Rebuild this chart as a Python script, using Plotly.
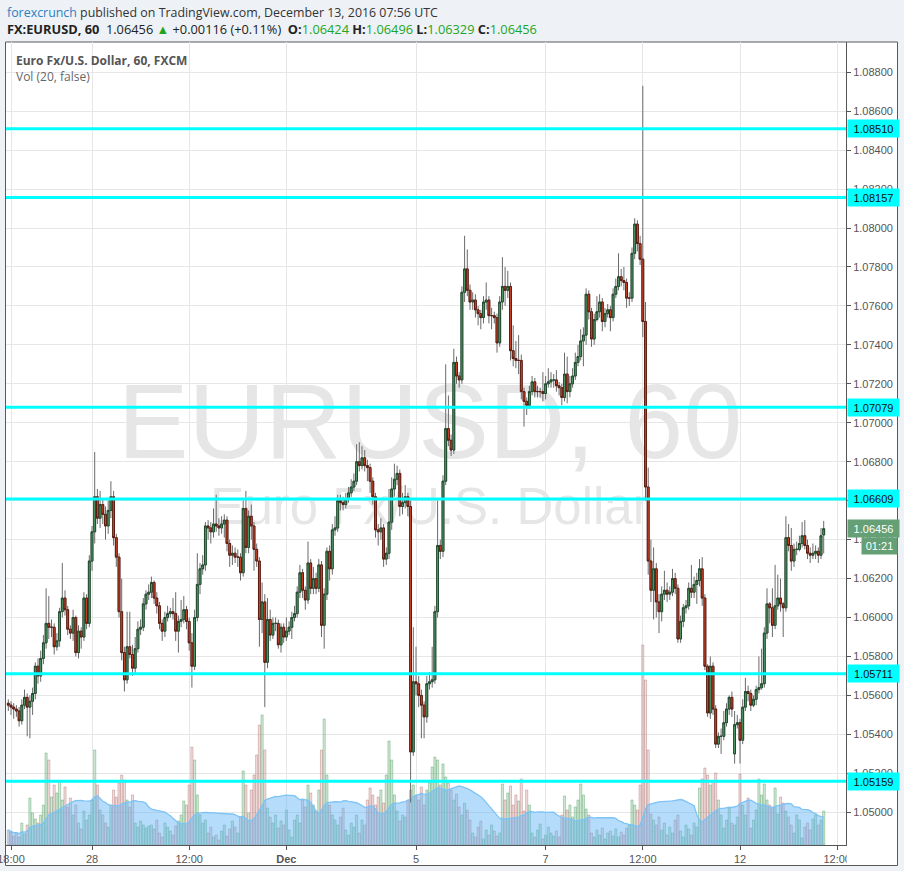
import pandas as pd
import plotly.graph_objects as go

# ---------------- data (EURUSD, 60 min bars, FXCM) ----------------
opens = [
    1.0556, 1.0555, 1.0554, 1.0553, 1.0552, 1.0547, 1.0555, 1.0559, 1.0554, 1.0557,
    1.0561, 1.0575, 1.0570, 1.0579, 1.0587, 1.0597, 1.0595, 1.0595, 1.0585, 1.0588,
    1.0603, 1.0610, 1.0604, 1.0594, 1.0592, 1.0600, 1.0582, 1.0593, 1.0590, 1.0610,
    1.0597, 1.0629, 1.0644, 1.0662, 1.0651, 1.0658, 1.0653, 1.0647, 1.0655, 1.0662,
    1.0641, 1.0631, 1.0603, 1.0582, 1.0568, 1.0585, 1.0581, 1.0574, 1.0584, 1.0594,
    1.0595, 1.0607, 1.0612, 1.0613, 1.0618, 1.0610, 1.0606, 1.0597, 1.0593, 1.0600,
    1.0602, 1.0603, 1.0602, 1.0593, 1.0598, 1.0599, 1.0604, 1.0598, 1.0587, 1.0575,
    1.0600, 1.0617, 1.0625, 1.0627, 1.0647, 1.0646, 1.0644, 1.0648, 1.0647, 1.0646,
    1.0648, 1.0650, 1.0638, 1.0632, 1.0633, 1.0631, 1.0631, 1.0623, 1.0656, 1.0636,
    1.0652, 1.0647, 1.0635, 1.0629, 1.0599, 1.0608, 1.0577, 1.0599, 1.0591, 1.0597,
    1.0597, 1.0586, 1.0595, 1.0590, 1.0593, 1.0595, 1.0600, 1.0602, 1.0613, 1.0623,
    1.0614, 1.0609, 1.0628, 1.0615, 1.0620, 1.0615, 1.0627, 1.0596, 1.0612, 1.0634,
    1.0625, 1.0645, 1.0646, 1.0660, 1.0659, 1.0658, 1.0661, 1.0664, 1.0667, 1.0670,
    1.0680, 1.0678, 1.0682, 1.0678, 1.0677, 1.0670, 1.0662, 1.0645, 1.0644, 1.0646,
    1.0630, 1.0633, 1.0649, 1.0666, 1.0671, 1.0674, 1.0657, 1.0659, 1.0662, 1.0657,
    1.0531, 1.0567, 1.0566, 1.0560, 1.0555, 1.0549, 1.0566, 1.0567, 1.0568, 1.0603,
    1.0637, 1.0634, 1.0670, 1.0697, 1.0691, 1.0686, 1.0731, 1.0724, 1.0722, 1.0767,
    1.0779, 1.0768, 1.0762, 1.0763, 1.0758, 1.0756, 1.0754, 1.0762, 1.0763, 1.0755,
    1.0755, 1.0754, 1.0741, 1.0762, 1.0770, 1.0768, 1.0770, 1.0737, 1.0733, 1.0732,
    1.0732, 1.0716, 1.0711, 1.0709, 1.0716, 1.0721, 1.0716, 1.0716, 1.0716, 1.0715,
    1.0720, 1.0721, 1.0722, 1.0722, 1.0719, 1.0718, 1.0713, 1.0725, 1.0716, 1.0720,
    1.0724, 1.0731, 1.0734, 1.0742, 1.0745, 1.0766, 1.0757, 1.0743, 1.0753, 1.0757,
    1.0762, 1.0752, 1.0756, 1.0758, 1.0754, 1.0766, 1.0770, 1.0775, 1.0773, 1.0772,
    1.0764, 1.0764, 1.0787, 1.0802, 1.0792, 1.0784, 1.0752, 1.0667, 1.0629, 1.0614,
    1.0625, 1.0608, 1.0603, 1.0612, 1.0614, 1.0612, 1.0613, 1.0620, 1.0615, 1.0589,
    1.0598, 1.0605, 1.0606, 1.0615, 1.0613, 1.0617, 1.0619, 1.0625, 1.0610, 1.0575,
    1.0551, 1.0575, 1.0553, 1.0535, 1.0539, 1.0539, 1.0546, 1.0553, 1.0559, 1.0530,
    1.0545, 1.0546, 1.0537, 1.0554, 1.0562, 1.0561, 1.0555, 1.0558, 1.0563, 1.0564,
    1.0566, 1.0592, 1.0607, 1.0605, 1.0596, 1.0606, 1.0610, 1.0607, 1.0605, 1.0641,
    1.0637, 1.0629, 1.0635, 1.0635, 1.0638, 1.0642, 1.0637, 1.0633, 1.0632, 1.0633,
    1.0634, 1.0632, 1.06424,
]
highs = [
    1.0558, 1.0557, 1.0556, 1.0555, 1.0554, 1.0558, 1.0563, 1.0561, 1.0560, 1.0564,
    1.0577, 1.0579, 1.0583, 1.0591, 1.0615, 1.0611, 1.0599, 1.0597, 1.0592, 1.0605,
    1.0628, 1.0614, 1.0606, 1.0596, 1.0604, 1.0601, 1.0596, 1.0595, 1.0613, 1.0612,
    1.0632, 1.0647, 1.0685, 1.0666, 1.0665, 1.0661, 1.0657, 1.0660, 1.0670, 1.0665,
    1.0643, 1.0633, 1.0620, 1.0585, 1.0603, 1.0603, 1.0586, 1.0590, 1.0598, 1.0599,
    1.0610, 1.0614, 1.0617, 1.0621, 1.0619, 1.0613, 1.0608, 1.0599, 1.0603, 1.0606,
    1.0605, 1.0610, 1.0613, 1.0601, 1.0609, 1.0611, 1.0606, 1.0600, 1.0592, 1.0604,
    1.0633, 1.0628, 1.0632, 1.0649, 1.0650, 1.0649, 1.0656, 1.0663, 1.0651, 1.0652,
    1.0653, 1.0652, 1.0640, 1.0637, 1.0636, 1.0635, 1.0633, 1.0660, 1.0665, 1.0655,
    1.0658, 1.0649, 1.0638, 1.0631, 1.0618, 1.0612, 1.0610, 1.0604, 1.0600, 1.0600,
    1.0599, 1.0597, 1.0597, 1.0600, 1.0598, 1.0603, 1.0606, 1.0616, 1.0627, 1.0625,
    1.0616, 1.0639, 1.0630, 1.0626, 1.0623, 1.0630, 1.0629, 1.0615, 1.0636, 1.0637,
    1.0648, 1.0652, 1.0663, 1.0663, 1.0662, 1.0664, 1.0667, 1.0671, 1.0674, 1.0689,
    1.0690, 1.0688, 1.0686, 1.0681, 1.0679, 1.0672, 1.0664, 1.0648, 1.0651, 1.0648,
    1.0636, 1.0666, 1.0672, 1.0679, 1.0678, 1.0676, 1.0664, 1.0668, 1.0664, 1.0660,
    1.0595, 1.0585, 1.0570, 1.0563, 1.0557, 1.0570, 1.0572, 1.0585, 1.0606, 1.0660,
    1.0640, 1.0673, 1.0730, 1.0714, 1.0694, 1.0738, 1.0734, 1.0726, 1.0770, 1.0796,
    1.0789, 1.0771, 1.0767, 1.0766, 1.0760, 1.0758, 1.0765, 1.0772, 1.0765, 1.0759,
    1.0757, 1.0756, 1.0765, 1.0785, 1.0780, 1.0778, 1.0772, 1.0750, 1.0742, 1.0745,
    1.0735, 1.0718, 1.0713, 1.0719, 1.0724, 1.0723, 1.0719, 1.0718, 1.0726, 1.0724,
    1.0728, 1.0726, 1.0725, 1.0727, 1.0721, 1.0720, 1.0736, 1.0734, 1.0724, 1.0728,
    1.0736, 1.0740, 1.0748, 1.0749, 1.0769, 1.0768, 1.0759, 1.0756, 1.0765, 1.0766,
    1.0764, 1.0759, 1.0761, 1.0760, 1.0769, 1.0774, 1.0787, 1.0779, 1.0780, 1.0774,
    1.0767, 1.0790, 1.0805, 1.0804, 1.0796, 1.0873, 1.0762, 1.0677, 1.0640, 1.0636,
    1.0628, 1.0612, 1.0616, 1.0624, 1.0618, 1.0616, 1.0625, 1.0623, 1.0617, 1.0601,
    1.0607, 1.0609, 1.0618, 1.0627, 1.0621, 1.0623, 1.0630, 1.0631, 1.0612, 1.0576,
    1.0580, 1.0577, 1.0555, 1.0541, 1.0543, 1.0552, 1.0556, 1.0560, 1.0562, 1.0552,
    1.0550, 1.0548, 1.0558, 1.0569, 1.0565, 1.0563, 1.0560, 1.0565, 1.0580, 1.0584,
    1.0595, 1.0615, 1.0608, 1.0615, 1.0627, 1.0622, 1.0620, 1.0608, 1.0652, 1.0648,
    1.0646, 1.0638, 1.0639, 1.0642, 1.0649, 1.0650, 1.0640, 1.0636, 1.0638, 1.0637,
    1.0636, 1.0646, 1.06496,
]
lows = [
    1.0552, 1.0550, 1.0548, 1.0549, 1.0544, 1.0545, 1.0553, 1.0539, 1.0538, 1.0550,
    1.0558, 1.0566, 1.0567, 1.0576, 1.0584, 1.0589, 1.0590, 1.0581, 1.0583, 1.0585,
    1.0600, 1.0601, 1.0591, 1.0589, 1.0588, 1.0580, 1.0579, 1.0584, 1.0588, 1.0594,
    1.0595, 1.0624, 1.0638, 1.0648, 1.0646, 1.0648, 1.0640, 1.0643, 1.0651, 1.0637,
    1.0626, 1.0600, 1.0578, 1.0562, 1.0566, 1.0579, 1.0570, 1.0571, 1.0582, 1.0591,
    1.0593, 1.0604, 1.0609, 1.0610, 1.0607, 1.0602, 1.0594, 1.0588, 1.0590, 1.0598,
    1.0600, 1.0599, 1.0588, 1.0582, 1.0595, 1.0597, 1.0594, 1.0583, 1.0564, 1.0573,
    1.0598, 1.0612, 1.0622, 1.0624, 1.0640, 1.0638, 1.0641, 1.0644, 1.0642, 1.0643,
    1.0641, 1.0634, 1.0626, 1.0627, 1.0628, 1.0626, 1.0619, 1.0621, 1.0633, 1.0633,
    1.0640, 1.0624, 1.0626, 1.0585, 1.0592, 1.0554, 1.0574, 1.0588, 1.0589, 1.0593,
    1.0584, 1.0582, 1.0587, 1.0588, 1.0591, 1.0589, 1.0598, 1.0600, 1.0610, 1.0610,
    1.0604, 1.0607, 1.0612, 1.0612, 1.0612, 1.0613, 1.0590, 1.0584, 1.0609, 1.0619,
    1.0622, 1.0642, 1.0644, 1.0655, 1.0655, 1.0656, 1.0659, 1.0662, 1.0665, 1.0668,
    1.0675, 1.0676, 1.0675, 1.0670, 1.0664, 1.0658, 1.0641, 1.0637, 1.0640, 1.0626,
    1.0627, 1.0630, 1.0645, 1.0662, 1.0668, 1.0652, 1.0653, 1.0656, 1.0652, 1.0505,
    1.0529, 1.0560, 1.0554, 1.0538, 1.0538, 1.0546, 1.0563, 1.0564, 1.0566, 1.0600,
    1.0630, 1.0631, 1.0668, 1.0688, 1.0683, 1.0684, 1.0720, 1.0718, 1.0720, 1.0762,
    1.0765, 1.0758, 1.0758, 1.0754, 1.0750, 1.0748, 1.0751, 1.0758, 1.0751, 1.0748,
    1.0751, 1.0736, 1.0739, 1.0758, 1.0760, 1.0764, 1.0732, 1.0729, 1.0728, 1.0725,
    1.0712, 1.0698, 1.0704, 1.0707, 1.0714, 1.0713, 1.0713, 1.0713, 1.0711, 1.0712,
    1.0718, 1.0718, 1.0718, 1.0716, 1.0714, 1.0709, 1.0711, 1.0710, 1.0713, 1.0718,
    1.0722, 1.0729, 1.0732, 1.0729, 1.0740, 1.0753, 1.0739, 1.0740, 1.0752, 1.0754,
    1.0747, 1.0749, 1.0754, 1.0747, 1.0752, 1.0764, 1.0768, 1.0770, 1.0768, 1.0759,
    1.0760, 1.0762, 1.0784, 1.0788, 1.0781, 1.0744, 1.0660, 1.0622, 1.0608, 1.0599,
    1.0600, 1.0592, 1.0598, 1.0609, 1.0608, 1.0609, 1.0611, 1.0612, 1.0587, 1.0587,
    1.0595, 1.0602, 1.0604, 1.0610, 1.0610, 1.0607, 1.0616, 1.0606, 1.0573, 1.0549,
    1.0548, 1.0550, 1.0533, 1.0533, 1.0530, 1.0537, 1.0544, 1.0550, 1.0549, 1.0525,
    1.0543, 1.0525, 1.0535, 1.0552, 1.0557, 1.0552, 1.0554, 1.0555, 1.0561, 1.0563,
    1.0564, 1.0589, 1.0597, 1.0590, 1.0594, 1.0604, 1.0603, 1.0590, 1.0603, 1.0634,
    1.0624, 1.0626, 1.0632, 1.0634, 1.0636, 1.0635, 1.0630, 1.0628, 1.0630, 1.0630,
    1.0628, 1.0630, 1.06329,
]
closes = [
    1.0555, 1.0554, 1.0553, 1.0552, 1.0547, 1.0555, 1.0559, 1.0554, 1.0557, 1.0561,
    1.0575, 1.0570, 1.0579, 1.0587, 1.0597, 1.0595, 1.0595, 1.0585, 1.0588, 1.0603,
    1.0610, 1.0604, 1.0594, 1.0592, 1.0600, 1.0582, 1.0593, 1.0590, 1.0610, 1.0597,
    1.0629, 1.0644, 1.0662, 1.0651, 1.0658, 1.0653, 1.0647, 1.0655, 1.0662, 1.0641,
    1.0631, 1.0603, 1.0582, 1.0568, 1.0585, 1.0581, 1.0574, 1.0584, 1.0594, 1.0595,
    1.0607, 1.0612, 1.0613, 1.0618, 1.0610, 1.0606, 1.0597, 1.0593, 1.0600, 1.0602,
    1.0603, 1.0602, 1.0593, 1.0598, 1.0599, 1.0604, 1.0598, 1.0587, 1.0575, 1.0600,
    1.0617, 1.0625, 1.0627, 1.0647, 1.0646, 1.0644, 1.0648, 1.0647, 1.0646, 1.0648,
    1.0650, 1.0638, 1.0632, 1.0633, 1.0631, 1.0631, 1.0623, 1.0656, 1.0636, 1.0652,
    1.0647, 1.0635, 1.0629, 1.0599, 1.0608, 1.0577, 1.0599, 1.0591, 1.0597, 1.0597,
    1.0586, 1.0595, 1.0590, 1.0593, 1.0595, 1.0600, 1.0602, 1.0613, 1.0623, 1.0614,
    1.0609, 1.0628, 1.0615, 1.0620, 1.0615, 1.0627, 1.0596, 1.0612, 1.0634, 1.0625,
    1.0645, 1.0646, 1.0660, 1.0659, 1.0658, 1.0661, 1.0664, 1.0667, 1.0670, 1.0680,
    1.0678, 1.0682, 1.0678, 1.0677, 1.0670, 1.0662, 1.0645, 1.0644, 1.0646, 1.0630,
    1.0633, 1.0649, 1.0666, 1.0671, 1.0674, 1.0657, 1.0659, 1.0662, 1.0657, 1.0531,
    1.0567, 1.0566, 1.0560, 1.0555, 1.0549, 1.0566, 1.0567, 1.0568, 1.0603, 1.0637,
    1.0634, 1.0670, 1.0697, 1.0691, 1.0686, 1.0731, 1.0724, 1.0722, 1.0767, 1.0779,
    1.0768, 1.0762, 1.0763, 1.0758, 1.0756, 1.0754, 1.0762, 1.0763, 1.0755, 1.0755,
    1.0754, 1.0741, 1.0762, 1.0770, 1.0768, 1.0770, 1.0737, 1.0733, 1.0732, 1.0732,
    1.0716, 1.0711, 1.0709, 1.0716, 1.0721, 1.0716, 1.0716, 1.0716, 1.0715, 1.0720,
    1.0721, 1.0722, 1.0722, 1.0719, 1.0718, 1.0713, 1.0725, 1.0716, 1.0720, 1.0724,
    1.0731, 1.0734, 1.0742, 1.0745, 1.0766, 1.0757, 1.0743, 1.0753, 1.0757, 1.0762,
    1.0752, 1.0756, 1.0758, 1.0754, 1.0766, 1.0770, 1.0775, 1.0773, 1.0772, 1.0764,
    1.0764, 1.0787, 1.0802, 1.0792, 1.0784, 1.0752, 1.0667, 1.0629, 1.0614, 1.0625,
    1.0608, 1.0603, 1.0612, 1.0614, 1.0612, 1.0613, 1.0620, 1.0615, 1.0589, 1.0598,
    1.0605, 1.0606, 1.0615, 1.0613, 1.0617, 1.0619, 1.0625, 1.0610, 1.0575, 1.0551,
    1.0575, 1.0553, 1.0535, 1.0539, 1.0539, 1.0546, 1.0553, 1.0559, 1.0553, 1.0545,
    1.0546, 1.0537, 1.0554, 1.0562, 1.0561, 1.0555, 1.0558, 1.0563, 1.0564, 1.0566,
    1.0592, 1.0607, 1.0605, 1.0596, 1.0606, 1.0610, 1.0607, 1.0605, 1.0641, 1.0637,
    1.0629, 1.0635, 1.0635, 1.0638, 1.0642, 1.0637, 1.0633, 1.0632, 1.0633, 1.0634,
    1.0632, 1.0642, 1.06456,
]
volumes = [
    15, 13, 9, 12, 8, 22, 11,
    20, 47, 32, 26, 22, 30, 40,
    92, 85, 48,
    60, 52, 64, 45, 58, 38, 47,
    30, 40, 22, 16, 34, 25, 30,
    45, 95, 60, 35,
    30, 22, 18,
    40, 55, 48, 62, 70, 65, 45, 38, 50,
    22, 18, 24, 20, 17, 19,
    20, 16, 25, 12, 8, 22, 18, 14, 10, 19, 24,
    30, 44, 40, 60, 98, 85, 50,
    30, 22, 25, 12, 18, 8, 10, 5, 14, 20, 9, 16, 24, 18, 12,
    28, 74, 60, 32,
    55, 70, 90, 120, 130, 95,
    37, 28, 22, 30, 17, 24, 20,
    35, 15, 8, 25, 30, 22,
    45, 38, 60, 52, 40, 34, 55,
    95, 126, 70, 40,
    30, 25, 20, 28, 37, 15, 10, 22, 18, 30, 12, 25, 20,
    45, 57, 50, 40, 48, 55, 42,
    70, 104, 85, 50,
    34, 24, 30, 28, 45,
    55, 60,
    50, 45, 58, 40, 55, 62, 78, 88, 85, 60, 81, 68, 62, 55,
    45, 51, 38, 30, 42, 35, 25,
    12, 8, 18, 24, 6, 15, 10, 20, 14, 9, 12,
    61, 45, 52, 59, 40, 50, 44,
    66, 34, 55, 40,
    12, 8, 15, 21, 6, 10, 18, 12, 9, 14, 8,
    30, 49, 35, 40, 28, 38, 45, 61, 50, 36, 30,
    12, 8, 15, 10, 17, 6, 12, 14, 9, 16, 8, 13, 10, 17, 20,
    45, 40, 35,
    60, 200, 165, 95,
    31, 25, 20, 28, 15, 22, 10, 18, 12, 25, 30, 14, 8, 20, 16, 10, 22, 18,
    57, 66, 77, 70, 60, 64, 72, 45,
    30, 17, 25, 37, 22, 20, 28,
    71, 40,
    30, 47, 17, 25, 35,
    66, 50, 61, 45, 40, 38,
    57, 31, 48, 42,
    34, 28, 20, 12, 30, 25, 7, 18, 22, 15, 26, 30, 20,
    25, 34,
]

tick_pos = [1, 31, 67, 103, 151, 199, 235, 271, 307]
tick_text = ["18:00", "28", "12:00", "<b>Dec</b>", "5", "7", "12:00", "12", "12:00"]
price_ticks = [1.050, 1.052, 1.054, 1.056, 1.058, 1.060, 1.062, 1.064, 1.066, 1.068,
               1.070, 1.072, 1.074, 1.076, 1.078, 1.080, 1.082, 1.084, 1.086, 1.088]
levels = [1.08510, 1.08157, 1.07079, 1.06609, 1.05711, 1.05159]
last_price = 1.06456
countdown = "01:21"

# ---------------- geometry helpers ----------------
W, H = 904, 871
PL, PR, PT, PB = 6, 846, 42, 845


def px_x(px):
    return (px - PL) / (PR - PL)


def px_y(py):
    return (PB - py) / (PB - PT)


n = min(len(opens), len(highs), len(lows), len(closes), len(volumes))
idx = list(range(n))
o, h, l, c, v = opens[:n], highs[:n], lows[:n], closes[:n], volumes[:n]
up = [c[i] >= o[i] for i in idx]
body_hi = [max(o[i], c[i]) for i in idx]
body_lo = [min(o[i], c[i]) for i in idx]
vol_ma = pd.Series(v).rolling(20, min_periods=1).mean()

AX_FONT = "Liberation Sans, Arial, sans-serif"
TXT_FONT = "Open Sans, Liberation Sans, sans-serif"
BG = "#eef2f6"

fig = go.Figure()

# volume bars (hidden left axis y)
fig.add_trace(go.Bar(
    x=idx, y=v, yaxis="y", xaxis="x",
    marker=dict(
        color=["rgba(130,195,140,0.36)" if u else "rgba(205,135,135,0.28)" for u in up],
        line=dict(color=["rgba(90,160,105,0.55)" if u else "rgba(175,110,110,0.5)" for u in up],
                  width=0.8)),
    hoverinfo="skip", showlegend=False))

# volume moving average (20)
fig.add_trace(go.Scatter(
    x=idx, y=vol_ma, yaxis="y", xaxis="x", mode="lines",
    line=dict(color="#7cc3f6", width=1.3),
    fill="tozeroy", fillcolor="rgba(100,181,246,0.47)",
    hoverinfo="skip", showlegend=False))

# wicks
fig.add_trace(go.Candlestick(
    x=idx, open=o, high=h, low=l, close=c, xaxis="x", yaxis="y2",
    increasing=dict(line=dict(color="#6a6a6a", width=1), fillcolor="rgba(0,0,0,0)"),
    decreasing=dict(line=dict(color="#6a6a6a", width=1), fillcolor="rgba(0,0,0,0)"),
    whiskerwidth=0, hoverinfo="skip", showlegend=False))

# bodies
fig.add_trace(go.Candlestick(
    x=idx, open=o, high=body_hi, low=body_lo, close=c, xaxis="x", yaxis="y2",
    increasing=dict(line=dict(color="#1f4b2e", width=1), fillcolor="#55a36d"),
    decreasing=dict(line=dict(color="#5e1b10", width=1), fillcolor="#d8482c"),
    whiskerwidth=0, hoverinfo="skip", showlegend=False))

shapes = [
    # chart frame
    dict(type="rect", xref="paper", yref="paper", layer="below",
         x0=px_x(5.5), x1=px_x(897.5), y0=px_y(865.5), y1=px_y(42),
         fillcolor="white", line=dict(color="#5a5a5a", width=1)),
    # watermark
    dict(type="rect", xref="paper", yref="paper", layer="below",
         x0=px_x(60), x1=px_x(800), y0=px_y(460), y1=px_y(362),
         fillcolor="rgba(0,0,0,0)", line=dict(width=0),
         label=dict(text="EURUSD, 60", textposition="middle center",
                    font=dict(family=AX_FONT, size=106, color="#e6e6e6"))),
    dict(type="rect", xref="paper", yref="paper", layer="below",
         x0=px_x(100), x1=px_x(760), y0=px_y(528), y1=px_y(474),
         fillcolor="rgba(0,0,0,0)", line=dict(width=0),
         label=dict(text="Euro Fx/U.S. Dollar", textposition="middle center",
                    font=dict(family=AX_FONT, size=51, color="#e6e6e6"))),
]
for lv in levels:
    shapes.append(dict(type="line", xref="paper", yref="y2", layer="above",
                       x0=0, x1=1, y0=lv, y1=lv,
                       line=dict(color="#00ffff", width=3)))
# cover for overflowing x tick label under the price scale
shapes.append(dict(type="rect", xref="paper", yref="paper", layer="above",
                   x0=px_x(846.8), x1=px_x(897), y0=px_y(865), y1=px_y(845.8),
                   fillcolor="white", line=dict(width=0)))

annotations = []
for lv in levels:
    annotations.append(dict(
        x=1, xref="paper", xanchor="left", xshift=0.5, y=lv, yref="y2", yanchor="middle",
        text=f"{lv:.5f}", showarrow=False, bgcolor="#00ffff", width=49, height=15,
        borderpad=1, align="center", font=dict(family=AX_FONT, size=11, color="#111")))
annotations.append(dict(
    x=1, xref="paper", xanchor="left", xshift=0.5, y=last_price, yref="y2", yanchor="middle",
    text=f"{last_price:.5f}", showarrow=False, bgcolor="#649f76", width=49, height=15,
    borderpad=1, align="center", font=dict(family=AX_FONT, size=11, color="white")))
annotations.append(dict(
    x=px_x(897.5), xref="paper", xanchor="right", y=last_price, yref="y2", yanchor="middle",
    yshift=-17, text=countdown, showarrow=False, bgcolor="#649f76", width=33, height=14,
    borderpad=1, align="center", font=dict(family=AX_FONT, size=11, color="white")))

GREEN = "#1ea51e"
header1 = ('<span style="color:#2a80c4">forexcrunch</span>'
           '<span style="color:#333"> published on TradingView.com, December 13, 2016 07:56 UTC</span>')
header2 = ('<b>FX:EURUSD, 60</b>\u00a0 1.06456 <span style="color:%s">\u25b2</span> +0.00116 (+0.11%%)\u00a0 '
           '<b>O:</b><span style="color:%s">1.06424</span> <b>H:</b><span style="color:%s">1.06496</span> '
           '<b>L:</b><span style="color:%s">1.06329</span> <b>C:</b><span style="color:%s">1.06456</span>'
           % (GREEN, GREEN, GREEN, GREEN, GREEN))
annotations += [
    dict(x=px_x(5), y=px_y(12), xref="paper", yref="paper", xanchor="left", yanchor="middle",
         text=header1, showarrow=False, font=dict(family=TXT_FONT, size=12.4, color="#333")),
    dict(x=px_x(5), y=px_y(29), xref="paper", yref="paper", xanchor="left", yanchor="middle",
         text=header2, showarrow=False, font=dict(family=TXT_FONT, size=12.8, color="#222")),
    dict(x=px_x(14), y=px_y(61), xref="paper", yref="paper", xanchor="left", yanchor="middle",
         text="<b>Euro Fx/U.S. Dollar, 60, FXCM</b>", showarrow=False,
         font=dict(family=TXT_FONT, size=12, color="#555")),
    dict(x=px_x(14), y=px_y(77), xref="paper", yref="paper", xanchor="left", yanchor="middle",
         text="Vol (20, false)", showarrow=False,
         font=dict(family=TXT_FONT, size=12, color="#666")),
]

fig.update_layout(
    width=W, height=H,
    margin=dict(l=PL, r=W - PR, t=PT, b=H - PB, pad=0, autoexpand=False),
    paper_bgcolor=BG, plot_bgcolor="white",
    showlegend=False, hovermode=False,
    boxgap=0.32, boxgroupgap=0, bargap=0.22,
    shapes=shapes, annotations=annotations,
    xaxis=dict(range=[-0.85, 310.26], tickmode="array", tickvals=tick_pos, ticktext=tick_text,
               ticks="outside", ticklen=4, tickcolor="#555", showline=True, linecolor="#555",
               linewidth=1, showgrid=True, gridcolor="#e6e6e6", zeroline=False,
               ticklabeloverflow="allow", automargin=False,
               tickfont=dict(family=AX_FONT, size=11, color="#555"),
               rangeslider=dict(visible=False)),
    yaxis=dict(range=[0, PB - PT], visible=False, showgrid=False, zeroline=False, fixedrange=True),
    yaxis2=dict(overlaying="y", side="right", range=[1.04832, 1.08955], tickmode="array",
                tickvals=price_ticks, ticktext=[f"{t:.5f}" for t in price_ticks],
                ticks="outside", ticklen=4, tickcolor="#555", showline=True, linecolor="#555",
                linewidth=1, showgrid=True, gridcolor="#e6e6e6", zeroline=False,
                automargin=False,
                tickfont=dict(family=AX_FONT, size=11, color="#555")),
)

fig.write_html(
    "out.html",
    config={"displayModeBar": False, "staticPlot": True},
    post_script=("document.body.style.margin='0px';"
                 "document.body.style.padding='0px';"
                 "document.body.style.overflow='hidden';"
                 "document.body.style.background='" + BG + "';"),
)
